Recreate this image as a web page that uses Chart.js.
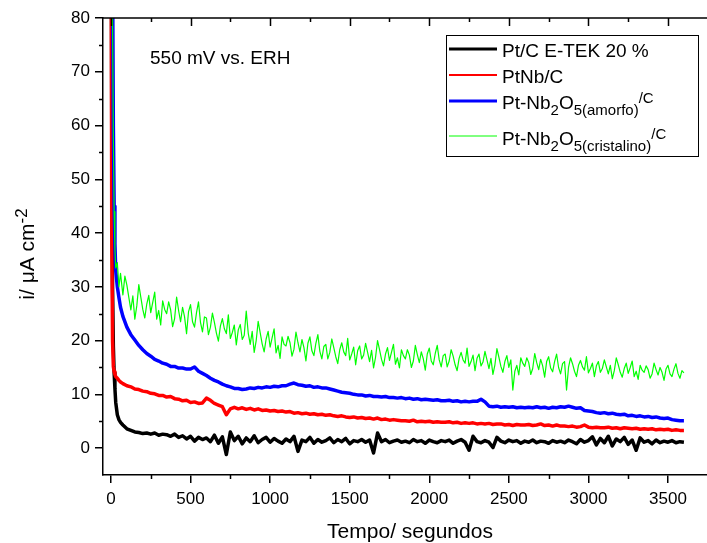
<!DOCTYPE html>
<html>
<head>
<meta charset="utf-8">
<script src="https://cdn.jsdelivr.net/npm/chart.js@4.4.0/dist/chart.umd.min.js"></script>
<style>
  body { margin: 0; background: #fff; }
  #wrap { width: 707px; height: 543px; }
</style>
</head>
<body>
<div id="wrap"><canvas id="cronoChart" width="707" height="543"></canvas></div>
<script>
// tempo (s)
const tempo = [
  0, 5, 10, 15, 20, 25, 30, 40, 50, 60, 75,
  100, 125, 150, 175, 200, 225, 250, 275, 300, 325,
  350, 375, 400, 425, 450, 475, 500, 525, 550, 575,
  600, 625, 650, 675, 700, 725, 750, 775, 800, 825,
  850, 875, 900, 925, 950, 975, 1000, 1025, 1050, 1075,
  1100, 1125, 1150, 1175, 1200, 1225, 1250, 1275, 1300, 1325,
  1350, 1375, 1400, 1425, 1450, 1475, 1500, 1525, 1550, 1575,
  1600, 1625, 1650, 1675, 1700, 1725, 1750, 1775, 1800, 1825,
  1850, 1875, 1900, 1925, 1950, 1975, 2000, 2025, 2050, 2075,
  2100, 2125, 2150, 2175, 2200, 2225, 2250, 2275, 2300, 2325,
  2350, 2375, 2400, 2425, 2450, 2475, 2500, 2525, 2550, 2575,
  2600, 2625, 2650, 2675, 2700, 2725, 2750, 2775, 2800, 2825,
  2850, 2875, 2900, 2925, 2950, 2975, 3000, 3025, 3050, 3075,
  3100, 3125, 3150, 3175, 3200, 3225, 3250, 3275, 3300, 3325,
  3350, 3375, 3400, 3425, 3450, 3475, 3500, 3525, 3550, 3575,
  3600
];

// the cristalino run was logged at a finer interval
const tempoFino = [
  0, 5, 10, 15, 20, 25, 30, 40, 50, 60, 75, 87.5,
  100, 112.5, 125, 137.5, 150, 162.5, 175, 187.5, 200, 212.5, 225, 237.5, 250, 262.5, 275, 287.5, 300, 312.5, 325, 337.5,
  350, 362.5, 375, 387.5, 400, 412.5, 425, 437.5, 450, 462.5, 475, 487.5, 500, 512.5, 525, 537.5, 550, 562.5, 575, 587.5,
  600, 612.5, 625, 637.5, 650, 662.5, 675, 687.5, 700, 712.5, 725, 737.5, 750, 762.5, 775, 787.5, 800, 812.5, 825, 837.5,
  850, 862.5, 875, 887.5, 900, 912.5, 925, 937.5, 950, 962.5, 975, 987.5, 1000, 1012.5, 1025, 1037.5, 1050, 1062.5, 1075, 1087.5,
  1100, 1112.5, 1125, 1137.5, 1150, 1162.5, 1175, 1187.5, 1200, 1212.5, 1225, 1237.5, 1250, 1262.5, 1275, 1287.5, 1300, 1312.5, 1325, 1337.5,
  1350, 1362.5, 1375, 1387.5, 1400, 1412.5, 1425, 1437.5, 1450, 1462.5, 1475, 1487.5, 1500, 1512.5, 1525, 1537.5, 1550, 1562.5, 1575, 1587.5,
  1600, 1612.5, 1625, 1637.5, 1650, 1662.5, 1675, 1687.5, 1700, 1712.5, 1725, 1737.5, 1750, 1762.5, 1775, 1787.5, 1800, 1812.5, 1825, 1837.5,
  1850, 1862.5, 1875, 1887.5, 1900, 1912.5, 1925, 1937.5, 1950, 1962.5, 1975, 1987.5, 2000, 2012.5, 2025, 2037.5, 2050, 2062.5, 2075, 2087.5,
  2100, 2112.5, 2125, 2137.5, 2150, 2162.5, 2175, 2187.5, 2200, 2212.5, 2225, 2237.5, 2250, 2262.5, 2275, 2287.5, 2300, 2312.5, 2325, 2337.5,
  2350, 2362.5, 2375, 2387.5, 2400, 2412.5, 2425, 2437.5, 2450, 2462.5, 2475, 2487.5, 2500, 2512.5, 2525, 2537.5, 2550, 2562.5, 2575, 2587.5,
  2600, 2612.5, 2625, 2637.5, 2650, 2662.5, 2675, 2687.5, 2700, 2712.5, 2725, 2737.5, 2750, 2762.5, 2775, 2787.5, 2800, 2812.5, 2825, 2837.5,
  2850, 2862.5, 2875, 2887.5, 2900, 2912.5, 2925, 2937.5, 2950, 2962.5, 2975, 2987.5, 3000, 3012.5, 3025, 3037.5, 3050, 3062.5, 3075, 3087.5,
  3100, 3112.5, 3125, 3137.5, 3150, 3162.5, 3175, 3187.5, 3200, 3212.5, 3225, 3237.5, 3250, 3262.5, 3275, 3287.5, 3300, 3312.5, 3325, 3337.5,
  3350, 3362.5, 3375, 3387.5, 3400, 3412.5, 3425, 3437.5, 3450, 3462.5, 3475, 3487.5, 3500, 3512.5, 3525, 3537.5, 3550, 3562.5, 3575, 3587.5,
  3600
];

// corrente (uA cm-2)
const ptcEtek = [
  130, 60, 30, 19, 14, 11, 8.5, 6.2, 5.3, 4.8, 4.3,
  3.6, 3.3, 3.0, 2.9, 2.7, 2.8, 2.6, 2.8, 2.4, 2.6,
  2.5, 2.2, 2.6, 2.0, 2.3, 1.7, 2.2, 1.3, 2.0, 1.6,
  1.9, 1.2, 2.4, 0.9, 2.1, -1.2, 3.0, 1.4, 2.2, 0.8,
  1.9, 1.2, 2.3, 1.0, 1.6, 2.0, 1.1, 1.8, 1.3, 0.9,
  1.7, 1.2, 2.2, -0.6, 1.5, 1.2, 2.0, 0.9, 1.6, 1.1,
  1.4, 1.9, 1.0, 1.6, 1.2, 1.8, 0.8, 1.4, 1.2, 1.6,
  1.1, 1.5, -0.9, 2.8, 1.2, 1.6, 1.0, 1.3, 1.5, 1.1,
  1.3, 1.0, 1.6, 1.2, 1.4, 0.9, 1.5, 1.2, 1.0, 1.4,
  1.2, 1.5, 0.9, 1.3, 1.6, 1.1, -0.4, 2.2, 1.2, 1.0,
  1.4, 1.1, 0.1, 2.0, 1.3, 1.0, 1.5, 1.2, 1.4, 0.9,
  1.3, 1.1, 1.5, 1.0, 1.3, 1.2, 0.9, 1.4, 1.1, 1.3,
  1.0, 1.5, 1.2, 0.8, 1.6, 1.1, 1.4, 2.1, 0.6, 1.8,
  1.0, 2.2, 0.4, 1.7, 1.2, 2.0, 0.7, 1.5, -0.4, 1.9,
  1.1, 1.4, 0.8, 1.5, 1.0, 1.3, 1.1, 1.4, 1.0, 1.2,
  1.1
];

const ptNb = [
  120, 40, 20, 15.2, 14.2, 13.7, 13.3, 13.0, 12.6, 12.3, 12.0,
  11.6, 11.4, 11.0, 10.9, 10.6, 10.5, 10.2, 10.1, 9.8, 9.8,
  9.5, 9.6, 9.2, 9.1, 8.8, 8.9, 8.5, 8.6, 8.3, 8.4,
  9.3, 8.9, 8.3, 8.0, 7.7, 6.2, 7.3, 7.6, 7.3, 7.5,
  7.2, 7.4, 7.1, 7.3, 7.0, 7.1, 6.9, 7.0, 6.8, 6.9,
  6.7, 6.8, 6.5, 6.6, 6.4, 6.5, 6.3, 6.4, 6.2, 6.3,
  6.1, 6.2, 6.0, 5.9, 6.0, 5.8, 5.7, 5.8, 5.6, 5.7,
  5.5, 5.6, 5.4, 5.6, 5.3, 5.4, 5.2, 5.3, 5.2, 5.1,
  5.1, 5.0, 5.2, 4.9, 5.0, 4.9, 5.0, 4.8, 4.9, 4.8,
  4.8, 4.9, 4.7, 4.8, 4.6, 4.7, 4.6, 4.7, 4.5, 4.6,
  4.5, 4.6, 4.4, 4.5, 4.5, 4.3, 4.4, 4.2, 4.4, 4.3,
  4.3, 4.4, 4.2, 4.3, 4.5, 4.2, 4.3, 4.1, 4.3, 4.1,
  4.1, 4.0, 4.1, 3.9, 4.0, 4.3, 3.9, 3.8, 3.9, 3.8,
  3.8, 3.9, 3.7, 3.8, 3.6, 3.8, 3.7, 3.6, 3.7, 3.5,
  3.6, 3.5, 3.6, 3.4, 3.5, 3.4, 3.5, 3.3, 3.4, 3.3,
  3.3
];

const ptNb2o5Amorfo = [
  200, 150, 90, 60, 45, 38, 33, 30, 28, 26.2, 24.5,
  22.5, 21.1, 20.1, 19.1, 18.3, 17.6, 17.1, 16.5, 16.2, 15.8,
  15.6, 15.2, 15.2, 14.9, 14.9, 14.7, 14.7, 15.1, 14.3, 13.9,
  13.5, 13.0, 12.6, 12.3, 11.9, 11.6, 11.4, 11.1, 11.1, 10.9,
  11.0, 11.2, 11.1, 11.3, 11.2, 11.4, 11.3, 11.5, 11.4, 11.6,
  11.6, 11.9, 12.1, 11.8, 11.7, 11.5, 11.6, 11.3, 11.4, 11.2,
  11.2, 11.0, 10.8, 10.6, 10.4, 10.3, 10.2, 10.0, 9.9, 9.9,
  9.7, 9.8, 9.6, 9.6, 9.5, 9.6, 9.4, 9.4, 9.3, 9.4,
  9.2, 9.3, 9.1, 9.2, 9.0, 9.1, 9.0, 8.9, 9.0, 8.8,
  8.8, 8.9, 8.7, 8.8, 8.6, 8.7, 8.6, 8.7, 8.7, 9.1,
  8.6, 7.8, 7.7, 7.8, 7.6, 7.7, 7.6, 7.7, 7.5, 7.6,
  7.5, 7.6, 7.5, 7.7, 7.5, 7.6, 7.4, 7.6, 7.5, 7.7,
  7.6, 7.8, 7.6, 7.4, 7.5, 7.0, 6.9, 6.8, 6.6, 6.5,
  6.6, 6.4, 6.5, 6.3, 6.2, 6.3, 6.0, 6.1, 5.9, 6.0,
  5.8, 5.9, 5.7, 5.8, 5.6, 5.5, 5.6, 5.3, 5.2, 5.1,
  5.1
];

// on tempoFino
const ptNb2o5Cristalino = [
  200, 150, 80, 58, 44, 37, 33.5, 34.5, 30, 32.5, 28.5, 32.0,
  30.3, 28.0, 25.7, 28.3, 24.0, 26.5, 30.4, 28.1, 25.8, 24.2, 26.8, 28.4, 25.2, 27.1, 29.0, 24.0, 25.6, 22.9, 27.4, 25.8,
  25.0, 27.2, 25.7, 22.6, 24.1, 28.1, 25.6, 23.5, 26.2, 24.4, 21.3, 25.4, 26.7, 23.5, 22.5, 25.2, 27.2, 23.4, 21.6, 24.4,
  24.2, 21.1, 22.5, 25.1, 23.4, 21.4, 19.9, 22.7, 24.1, 22.2, 21.3, 24.8, 20.4, 21.5, 22.9, 19.2, 22.0, 23.0, 20.2, 21.0,
  25.5, 21.4, 19.3, 21.7, 17.8, 20.0, 23.6, 21.5, 19.4, 17.9, 20.3, 21.7, 18.8, 20.5, 22.2, 17.7, 19.1, 16.7, 20.7, 19.3,
  19.0, 20.8, 19.6, 17.1, 18.4, 21.6, 19.6, 17.9, 20.2, 18.7, 16.2, 19.5, 20.7, 18.1, 17.2, 19.5, 21.1, 18.0, 16.6, 18.9,
  19.3, 16.6, 17.8, 20.3, 18.7, 17.0, 15.7, 18.3, 19.6, 17.9, 17.2, 20.4, 16.4, 17.5, 18.8, 15.5, 18.1, 19.0, 16.6, 17.3,
  19.5, 17.8, 16.1, 18.2, 14.9, 16.9, 20.0, 18.3, 16.5, 15.3, 17.5, 18.7, 16.3, 17.8, 19.3, 15.6, 16.8, 14.9, 18.3, 17.2,
  16.6, 18.3, 17.3, 15.0, 16.2, 19.1, 17.4, 15.9, 17.9, 16.6, 14.5, 17.5, 18.6, 16.2, 15.5, 17.6, 19.1, 16.4, 15.1, 17.2,
  17.5, 15.1, 16.2, 18.3, 17.1, 15.5, 14.4, 16.7, 17.8, 16.4, 15.8, 18.6, 15.2, 16.1, 17.3, 14.4, 16.7, 17.5, 15.3, 16.0,
  18.0, 16.4, 14.8, 16.7, 13.7, 15.5, 18.5, 16.9, 15.2, 14.1, 16.1, 17.2, 15.0, 16.4, 10.8, 14.3, 15.4, 13.6, 16.8, 15.8,
  15.2, 16.8, 15.9, 13.7, 14.8, 17.6, 15.9, 14.6, 16.5, 15.3, 13.2, 16.1, 17.0, 14.9, 14.2, 16.1, 17.5, 15.0, 13.8, 15.7,
  16.1, 10.8, 15.0, 16.8, 15.7, 14.3, 13.3, 15.4, 16.3, 15.1, 14.5, 17.0, 14.0, 14.8, 15.8, 13.3, 15.3, 16.1, 14.1, 14.8,
  16.4, 15.1, 13.8, 15.4, 12.9, 14.4, 16.8, 15.5, 14.1, 13.2, 14.8, 15.8, 13.9, 15.0, 16.2, 13.3, 14.3, 12.8, 15.4, 14.5,
  14.1, 15.3, 14.6, 13.0, 13.8, 15.8, 14.6, 13.6, 15.0, 14.1, 12.6, 14.7, 15.4, 13.8, 13.3, 14.7, 15.7, 13.9, 13.0, 14.4,
  14.0
];

const xTickLabels = [0, 500, 1000, 1500, 2000, 2500, 3000, 3500];
const xMinorTicks = [250, 750, 1250, 1750, 2250, 2750, 3250];
const yTickLabels = [0, 10, 20, 30, 40, 50, 60, 70, 80];
const yMinorTicks = [5, 15, 25, 35, 45, 55, 65, 75];

// legend text: [piece, 'n' | 'sub' | 'sup']
const legendNames = [
  [['Pt/C E-TEK 20 %', 'n']],
  [['PtNb/C', 'n']],
  [['Pt-Nb', 'n'], ['2', 'sub'], ['O', 'n'], ['5(amorfo)', 'sub'], ['/C', 'sup']],
  [['Pt-Nb', 'n'], ['2', 'sub'], ['O', 'n'], ['5(cristalino)', 'sub'], ['/C', 'sup']]
];

const FONT = '"Liberation Sans", Arial, sans-serif';
Chart.defaults.font.family = FONT;
Chart.defaults.color = '#000';

const toPoints = (times, vals) => times.map((t, i) => ({ x: t, y: vals[i] }));

function drawRich(ctx, parts, x, y, size) {
  parts.forEach(([text, mode]) => {
    let fs = mode === 'n' ? size : Math.round(size * 0.8);
    let dy = mode === 'sub' ? size * 0.32 : (mode === 'sup' ? -size * 0.34 : 0);
    ctx.font = fs + 'px ' + FONT;
    ctx.fillText(text, x, y + dy);
    x += ctx.measureText(text).width;
  });
  return x;
}

function richWidth(ctx, parts, size) {
  let w = 0;
  parts.forEach(([text, mode]) => {
    let fs = mode === 'n' ? size : Math.round(size * 0.8);
    ctx.font = fs + 'px ' + FONT;
    w += ctx.measureText(text).width;
  });
  return w;
}

const decorPlugin = {
  id: 'decor',
  afterDraw(chart) {
    const ctx = chart.ctx;
    const area = chart.chartArea;
    const xs = chart.scales.x, ys = chart.scales.y;
    ctx.save();
    ctx.strokeStyle = '#000';
    ctx.fillStyle = '#000';
    ctx.lineWidth = 1.5;

    // top frame + ticks, minor ticks
    ctx.beginPath();
    ctx.moveTo(area.left, area.top);
    ctx.lineTo(area.right, area.top);
    xTickLabels.forEach(v => {
      let px = Math.round(xs.getPixelForValue(v)) + 0.5;
      ctx.moveTo(px, area.top); ctx.lineTo(px, area.top + 8);
    });
    xMinorTicks.forEach(v => {
      let px = Math.round(xs.getPixelForValue(v)) + 0.5;
      ctx.moveTo(px, area.top); ctx.lineTo(px, area.top + 4);
      ctx.moveTo(px, area.bottom); ctx.lineTo(px, area.bottom + 4);
    });
    yMinorTicks.forEach(v => {
      let py = Math.round(ys.getPixelForValue(v)) + 0.5;
      ctx.moveTo(area.left, py); ctx.lineTo(area.left - 4, py);
    });
    ctx.stroke();

    ctx.font = '19px ' + FONT;
    ctx.textAlign = 'left';
    ctx.textBaseline = 'alphabetic';
    ctx.fillText('550 mV vs. ERH', 150, 64);

    // axis titles
    ctx.font = '21px ' + FONT;
    ctx.textAlign = 'center';
    ctx.fillText('Tempo/ segundos', 410, 538);

    let yTitle = [['i/ \u03bcA cm', 'n'], ['-2', 'sup']];
    ctx.save();
    ctx.translate(34, 254);
    ctx.rotate(-Math.PI / 2);
    ctx.textAlign = 'left';
    let w = richWidth(ctx, yTitle, 21);
    drawRich(ctx, yTitle, -w / 2, 0, 21);
    ctx.restore();

    // legend
    const box = { x: 446.5, y: 35.5, w: 252, h: 121 };
    const lineY = [49, 75, 101, 136];
    const textY = [57, 83, 109, 145];
    ctx.lineWidth = 1;
    ctx.strokeRect(box.x, box.y, box.w, box.h);
    chart.data.datasets.forEach((ds, i) => {
      ctx.strokeStyle = ds.borderColor;
      ctx.lineWidth = ds.legendWidth;
      ctx.beginPath();
      ctx.moveTo(449, lineY[i]);
      ctx.lineTo(497, lineY[i]);
      ctx.stroke();
      ctx.fillStyle = '#000';
      ctx.textAlign = 'left';
      drawRich(ctx, legendNames[i], 502, textY[i], 19);
    });
    ctx.restore();
  }
};

const axisGrid = { display: true, drawOnChartArea: false, drawTicks: true, tickLength: 8, color: '#000', lineWidth: 1.5 };
const axisBorder = { display: true, color: '#000', width: 1.5 };

new Chart(document.getElementById('cronoChart'), {
  type: 'line',
  data: {
    datasets: [
      { label: 'Pt/C E-TEK 20 %', data: toPoints(tempo, ptcEtek), borderColor: '#000000', borderWidth: 3.5, legendWidth: 3, order: 3 },
      { label: 'PtNb/C', data: toPoints(tempo, ptNb), borderColor: '#ff0000', borderWidth: 3.5, legendWidth: 2, order: 2 },
      { label: 'Pt-Nb2O5(amorfo)/C', data: toPoints(tempo, ptNb2o5Amorfo), borderColor: '#0000ff', borderWidth: 3.5, legendWidth: 3, order: 1 },
      { label: 'Pt-Nb2O5(cristalino)/C', data: toPoints(tempoFino, ptNb2o5Cristalino), borderColor: '#00ff00', borderWidth: 1.2, legendWidth: 1, order: 0 }
    ]
  },
  options: {
    responsive: false,
    animation: false,
    devicePixelRatio: 1,
    layout: { padding: { top: 18, left: 0, right: 0, bottom: 0 } },
    elements: {
      point: { radius: 0, hoverRadius: 0 },
      line: { tension: 0, fill: false, borderJoinStyle: 'round' }
    },
    plugins: {
      legend: { display: false },
      tooltip: { enabled: false }
    },
    scales: {
      x: {
        type: 'linear',
        min: -50,
        max: 3745,
        border: axisBorder,
        grid: axisGrid,
        ticks: { font: { size: 17 }, padding: 6, maxRotation: 0, autoSkip: false, callback: (v) => String(v) },
        afterBuildTicks: (scale) => { scale.ticks = xTickLabels.map(v => ({ value: v })); },
        afterFit: (scale) => { scale.height = 68; }
      },
      y: {
        type: 'linear',
        min: -5,
        max: 80,
        border: axisBorder,
        grid: axisGrid,
        ticks: { font: { size: 17 }, padding: 5, callback: (v) => String(v) },
        afterBuildTicks: (scale) => { scale.ticks = yTickLabels.map(v => ({ value: v })); },
        afterFit: (scale) => { scale.width = 103; }
      }
    }
  },
  plugins: [decorPlugin]
});
</script>
</body>
</html>
